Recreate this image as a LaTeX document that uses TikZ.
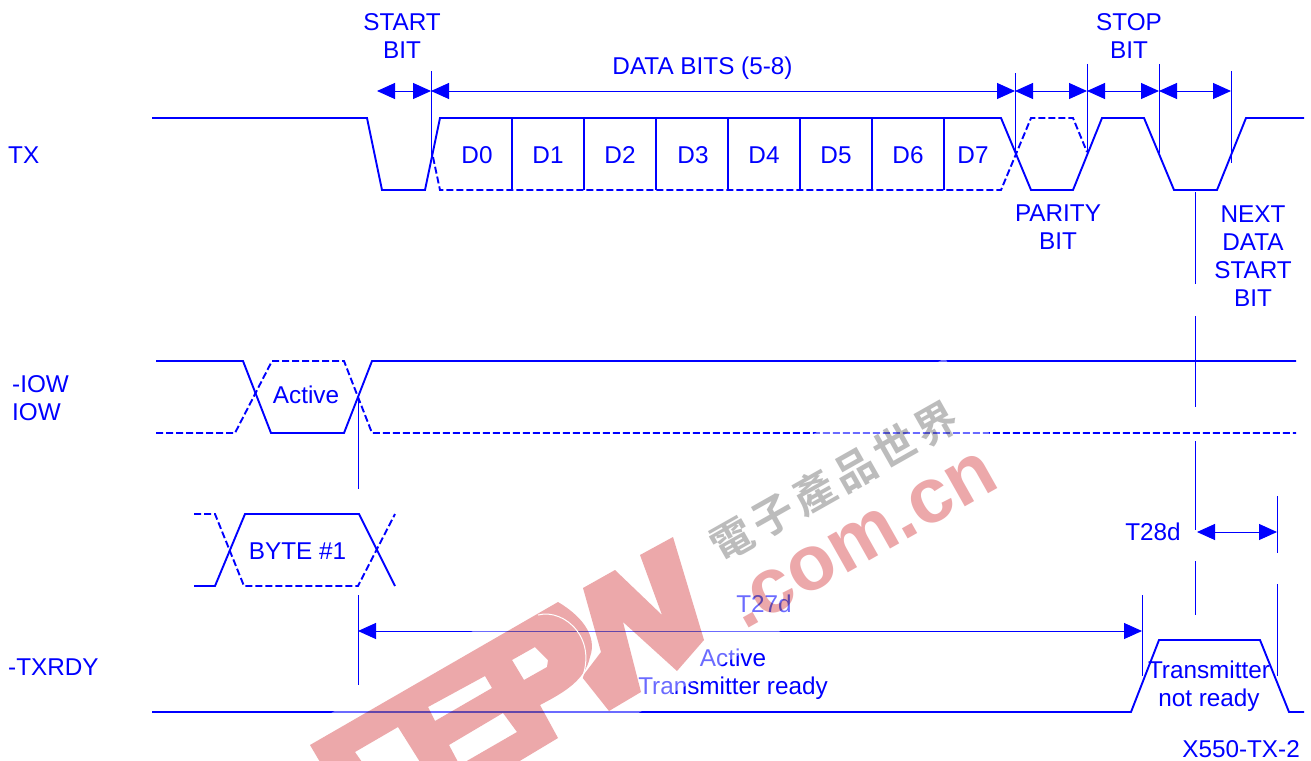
\documentclass[tikz,border=0pt]{standalone}
\usepackage{fontspec}
\setmainfont{Liberation Sans}
\newfontfamily\wmcjk{Noto Sans CJK TC}[BoldFont=* Bold]
\usetikzlibrary{arrows.meta}
\definecolor{ink}{RGB}{0,0,255}
\definecolor{wmpink}{RGB}{236,168,170}
\definecolor{wmgrey}{RGB}{188,188,188}
\tikzset{
  wave/.style={draw=ink,line width=1.9pt,line join=miter},
  wavedash/.style={wave,dash pattern=on 7pt off 3pt},
  tickline/.style={draw=ink,line width=1pt},
  dimline/.style={draw=ink,line width=1pt,{Triangle[length=18pt,width=16pt]}-{Triangle[length=18pt,width=16pt]}},
  lbl/.style={text=ink,inner sep=0pt,align=center,font=\fontsize{24.3}{28}\selectfont},
  lbll/.style={lbl,anchor=west,align=left},
  wmfill/.style={fill=wmpink,draw=none}
}
\begin{document}
\begin{tikzpicture}[x=1pt,y=-1pt]
\useasboundingbox (0,0) rectangle (1311,760);
\fill[white] (0,0) rectangle (1311,760);

% TX
\draw[wave] (152,118) -- (367,118) -- (382,190) -- (425,190) -- (440,118) -- (1001,118) -- (1031,190) -- (1073,190) -- (1102,118) -- (1144,118) -- (1174,190) -- (1217,190) -- (1246,118) -- (1304,118);
\draw[wavedash] (433,157) -- (440,190) -- (1001,190) -- (1031,118) -- (1073,118) -- (1087,152);
\foreach \x in {512,584,656,728,800,872,944} \draw[wave] (\x,118) -- (\x,190);

% -IOW
\draw[wave] (156,361) -- (243,361) -- (271,433) -- (344,433) -- (372,361) -- (1296,361);
\draw[wavedash] (156,433) -- (235,433) -- (272,361) -- (344,361) -- (372,433) -- (1296,433);

% BYTE
\draw[wave] (194,586) -- (215,586) -- (245,514) -- (359,514) -- (395,586);
\draw[wavedash] (194,514) -- (215,514) -- (244,586) -- (358,586) -- (395,514);

% -TXRDY
\draw[wave] (152,712) -- (1131,712) -- (1159,640) -- (1260,640) -- (1289,712) -- (1304,712);

% ticks
\foreach \xa/\ya/\yb in {431/71/157,1015/73/155,1087/64/152,1159/64/153,1231/71/163,
  358/397/489,358/595/685,1142/595/676,
  1195/192/284,1195/316/407,1195/441/530,1195/561/615,
  1277/496/553,1277/584/676}
  \draw[tickline] (\xa,\ya) -- (\xa,\yb);

% dimension arrows
\coordinate (d0) at (377,91);
\coordinate (d1) at (431,91);
\coordinate (d2) at (1015,91);
\coordinate (d3) at (1087,91);
\coordinate (d4) at (1159,91);
\coordinate (d5) at (1231,91);
\coordinate (t27a) at (358,631);
\coordinate (t27b) at (1142,631);
\coordinate (t28a) at (1197,532);
\coordinate (t28b) at (1277,532);
\draw[dimline] (d0) -- (d1);
\draw[dimline] (d1) -- (d2);
\draw[dimline] (d2) -- (d3);
\draw[dimline] (d3) -- (d4);
\draw[dimline] (d4) -- (d5);
\draw[dimline] (t27a) -- (t27b);
\draw[dimline] (t28a) -- (t28b);

% labels
\node[lbll] (ltx) at (8,155) {TX};
\node[lbll] (liow) at (12,398) {-IOW\\IOW};
\node[lbll] (ltxrdy) at (8,667) {-TXRDY};
\node[lbl] (lstart) at (402,36) {START\\BIT};
\node[lbl] (ldata) at (702.5,68) {DATA BITS (5-8)};
\node[lbl] (lstop) at (1129,36) {STOP\\BIT};
\node[lbl] (lparity) at (1058,227) {PARITY\\BIT};
\node[lbl] (lnext) at (1253,256) {NEXT\\DATA\\START\\BIT};
\foreach \n/\t/\x in {d0/D0/477,d1/D1/548,d2/D2/620,d3/D3/693,d4/D4/764,d5/D5/836,d6/D6/908,d7/D7/973}
  \node[lbl] (l\n) at (\x,155) {\t};
\node[lbl] (lact) at (306,395) {Active};
\node[lbl] (lbyte) at (297.5,551) {BYTE \#1};
\node[lbl] (lt28) at (1153,532) {T28d};
\node[lbl] (lt27) at (764,604) {T27d};
\node[lbl] (lready) at (733,674.5) {Active\\Transmitter ready};
\node[lbl] (lnot) at (1209,686.5) {Transmitter\\not ready};
\node[lbl,anchor=east] (lfig) at (1300,749) {X550-TX-2};

% watermark: pale band, then the tinted marks multiplied over the drawing
\fill[white,opacity=0.42] (250,760) -- (557,760) -- (1023,491) -- (945,358) -- cycle;
\begin{scope}
\clip (0,0) rectangle (1311,760);
\begin{scope}[blend mode=multiply]
  \fill[wmfill,even odd rule]
    (310,745) -- (558,602) .. controls (580,615) and (598,635) .. (590,657)
    .. controls (585,680) and (565,692) .. (540,705) -- (558,738) -- (518,762) -- (320,762) -- cycle
    (512,660) -- (535,647) -- (548,660) -- (547,667) -- (524,680) -- cycle
    (428,707) -- (485,676) -- (492,688) -- (435,721) -- cycle
    (449,745) -- (503,713) -- (517,732) -- (465,762) -- (458,762) -- cycle
    (355,752) -- (398,727) -- (420,762) -- (362,762) -- cycle;
  \fill[wmfill]
    (583,588) -- (615,570) -- (662,615) -- (640,555) -- (673,537) -- (704,640) -- (677,671)
    -- (623,622) -- (641,692) -- (609,711) -- (582,677) -- (601,652) -- cycle;
  \node[rotate=29.4,anchor=mid,inner sep=0pt,text=wmpink,font=\bfseries\fontsize{78}{78}\selectfont] (wmcom) at (872,556) {.com.cn};
  \node[rotate=29.5,inner sep=0pt,text=wmgrey,font=\wmcjk\bfseries\fontsize{42}{42}\selectfont] (wmzh) at (834,481) {電\kern5pt子\kern5pt產\kern5pt品\kern5pt世\kern5pt界};
\end{scope}
\draw[white,line width=1pt] (538,615) .. controls (565,608) and (600,640) .. (580,683);
\end{scope}
\end{tikzpicture}
\end{document}
